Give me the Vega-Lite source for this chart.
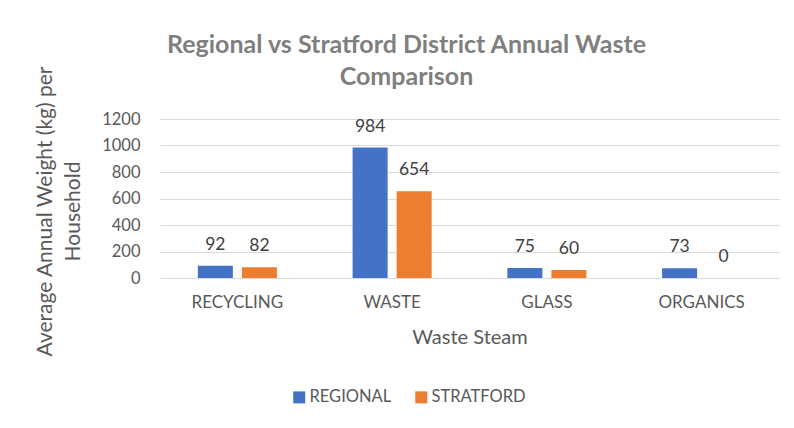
{
  "$schema": "https://vega.github.io/schema/vega-lite/v6.json",
  "width": 619,
  "height": 159,
  "autosize": {"type": "none"},
  "padding": {"left": 160, "top": 119, "right": 15, "bottom": 150},
  "background": "white",
  "title": {
    "text": ["Regional vs Stratford District Annual Waste", "Comparison"],
    "font": "Lato",
    "fontWeight": "bold",
    "fontSize": 25,
    "color": "#7F7F7F",
    "lineHeight": 32,
    "anchor": "middle",
    "frame": "group",
    "dx": -63,
    "dy": 28
  },
  "data": {
    "values": [
      {"stream": "RECYCLING", "series": "REGIONAL", "value": 92},
      {"stream": "RECYCLING", "series": "STRATFORD", "value": 82},
      {"stream": "WASTE", "series": "REGIONAL", "value": 984},
      {"stream": "WASTE", "series": "STRATFORD", "value": 654},
      {"stream": "GLASS", "series": "REGIONAL", "value": 75},
      {"stream": "GLASS", "series": "STRATFORD", "value": 60},
      {"stream": "ORGANICS", "series": "REGIONAL", "value": 73},
      {"stream": "ORGANICS", "series": "STRATFORD", "value": 0}
    ]
  },
  "encoding": {
    "x": {
      "field": "stream",
      "type": "nominal",
      "sort": ["RECYCLING", "WASTE", "GLASS", "ORGANICS"],
      "scale": {"paddingInner": 0.489, "paddingOuter": 0.2445},
      "axis": {
        "title": "Waste Steam",
        "labelAngle": 0,
        "ticks": false,
        "domain": false,
        "grid": false,
        "labelFont": "Lato",
        "labelFontSize": 17,
        "labelColor": "#595959",
        "labelPadding": 16,
        "titleFont": "Lato",
        "titleFontSize": 20,
        "titleFontWeight": "normal",
        "titleColor": "#595959",
        "titleBaseline": "middle",
        "titleY": 59
      }
    },
    "xOffset": {
      "field": "series",
      "type": "nominal",
      "scale": {"paddingInner": 0.2045, "paddingOuter": 0}
    },
    "y": {
      "field": "value",
      "type": "quantitative",
      "scale": {"domain": [0, 1200], "nice": false},
      "axis": {
        "title": ["Average Annual Weight (kg) per", "Household"],
        "values": [0, 200, 400, 600, 800, 1000, 1200],
        "format": "d",
        "ticks": false,
        "domain": false,
        "grid": true,
        "gridColor": "#D9D9D9",
        "gridWidth": 1.2,
        "labelFont": "Lato",
        "labelFontSize": 16.5,
        "labelColor": "#595959",
        "labelPadding": 20,
        "titleFont": "Lato",
        "titleFontSize": 21,
        "titleFontWeight": "normal",
        "titleColor": "#595959",
        "titleLineHeight": 28,
        "titleAlign": "center",
        "titleBaseline": "middle",
        "titleAngle": -90,
        "titleX": -115,
        "titleY": 92
      }
    },
    "color": {
      "field": "series",
      "type": "nominal",
      "scale": {"domain": ["REGIONAL", "STRATFORD"], "range": ["#4472C4", "#ED7D31"]},
      "legend": {
        "title": null,
        "orient": "none",
        "direction": "horizontal",
        "legendX": 131,
        "legendY": 270,
        "symbolType": "square",
        "symbolSize": 144,
        "symbolStrokeWidth": 0,
        "symbolOpacity": 1,
        "labelFont": "Lato",
        "labelFontSize": 16.5,
        "labelColor": "#595959",
        "labelOffset": 2,
        "columnPadding": 21
      }
    }
  },
  "layer": [
    {"mark": {"type": "bar"}},
    {
      "mark": {
        "type": "text",
        "dy": -16,
        "baseline": "alphabetic",
        "font": "Lato",
        "fontSize": 17.5,
        "color": "#404040"
      },
      "encoding": {
        "text": {"field": "value", "type": "quantitative"},
        "color": {"value": "#404040"}
      }
    }
  ],
  "config": {
    "view": {"stroke": null}
  }
}
